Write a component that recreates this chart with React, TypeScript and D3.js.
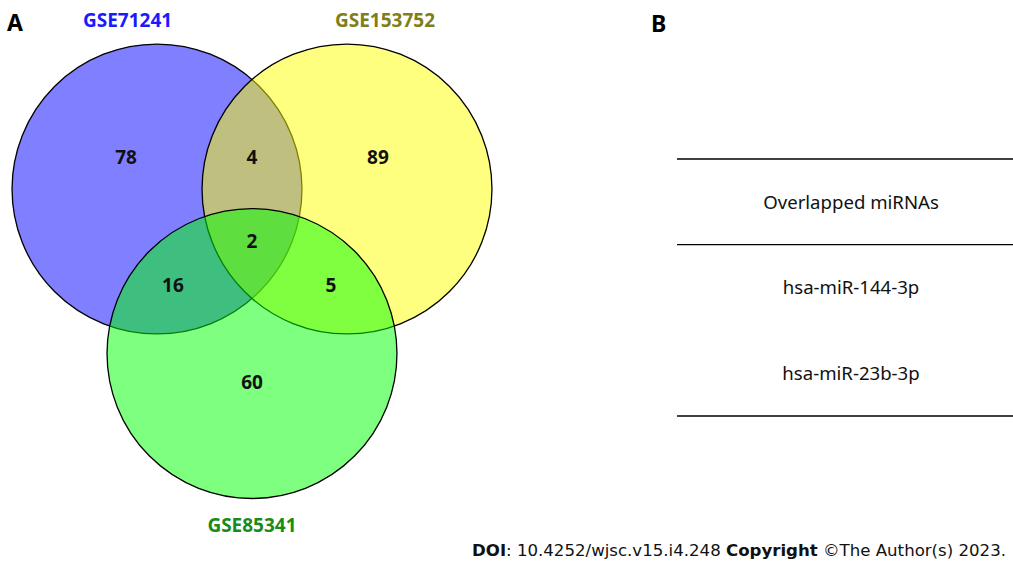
import React, { useEffect, useRef } from 'react'
import * as d3 from 'd3'

const setNames = ['GSE71241', 'GSE153752', 'GSE85341']
const setFills = ['#0000ff', '#ffff00', '#00ff00']
const setLabelColors = ['#1a1aff', '#7f7f1a', '#1a8a1a']

// region keys: which sets the region belongs to
const regionKeys = ['A', 'B', 'AB', 'ABC', 'AC', 'BC', 'C']
const regionCounts = [78, 89, 4, 2, 16, 5, 60]

const tableHeader = 'Overlapped miRNAs'
const overlapMirnas = ['hsa-miR-144-3p', 'hsa-miR-23b-3p']

const W = 1013
const H = 566

// venn layout in unit coords (distance between centres = 1)
const centres: [number, number][] = [[0, 0], [1, 0], [0.5, 0.866]]
const radiusU = 0.763
const regionAnchor: Record<string, [number, number]> = {
    A: [-0.163, -0.168],
    B: [1.163, -0.168],
    AB: [0.5, -0.168],
    ABC: [0.5, 0.274],
    AC: [0.084, 0.505],
    BC: [0.916, 0.505],
    C: [0.5, 1.02],
}

const App = () => {
    const svgRef = useRef<SVGSVGElement>(null)

    useEffect(() => {
        const svg = d3.select(svgRef.current)
        svg.selectAll('*').remove()

        const x = d3.scaleLinear([0, 1], [157, 347])
        const y = d3.scaleLinear([0, 1], [189, 379])
        const r = (u: number) => x(u) - x(0)

        const font = '"Noto Sans", sans-serif'

        // panel letters
        svg.append('text').attr('x', 7).attr('y', 31).text('A')
            .attr('font-family', font).attr('font-weight', 'bold').attr('font-size', 23)
        svg.append('text').attr('x', 651).attr('y', 32).text('B')
            .attr('font-family', font).attr('font-weight', 'bold').attr('font-size', 23)

        // circles
        svg.append('g')
            .selectAll('circle')
            .data(centres)
            .join('circle')
            .attr('cx', d => x(d[0]))
            .attr('cy', d => y(d[1]))
            .attr('r', r(radiusU))
            .attr('fill', (_, i) => setFills[i])
            .attr('fill-opacity', 0.5)
            .attr('stroke', '#000')
            .attr('stroke-width', 1.3)

        // set labels
        const labelPos: [number, number][] = [[-0.155, 27], [1.2, 27], [0.5, 532]]
        svg.append('g')
            .selectAll('text')
            .data(setNames)
            .join('text')
            .attr('x', (_, i) => x(labelPos[i][0]))
            .attr('y', (_, i) => labelPos[i][1])
            .attr('text-anchor', 'middle')
            .attr('font-family', font)
            .attr('font-weight', 'bold')
            .attr('font-size', 19)
            .attr('fill', (_, i) => setLabelColors[i])
            .text(d => d)

        // counts
        svg.append('g')
            .selectAll('text')
            .data(regionKeys)
            .join('text')
            .attr('x', d => x(regionAnchor[d][0]))
            .attr('y', d => y(regionAnchor[d][1]))
            .attr('dy', '0.35em')
            .attr('text-anchor', 'middle')
            .attr('font-family', font)
            .attr('font-weight', 'bold')
            .attr('font-size', 19)
            .attr('fill', '#111')
            .text((_, i) => regionCounts[i])

        // table B
        const rows = [tableHeader, ...overlapMirnas]
        const ty = d3.scaleBand().domain(rows.map(String)).range([159, 416])
        const tx0 = 677
        const tx1 = W
        const lineYs = [159, ty(overlapMirnas[0])!, 416]
        svg.append('g')
            .selectAll('line')
            .data(lineYs)
            .join('line')
            .attr('x1', tx0).attr('x2', tx1)
            .attr('y1', d => d).attr('y2', d => d)
            .attr('stroke', '#000').attr('stroke-width', 1.3)
        svg.append('g')
            .selectAll('text')
            .data(rows)
            .join('text')
            .attr('x', (tx0 + tx1) / 2 + 6)
            .attr('y', d => ty(d)! + ty.bandwidth() / 2 + (d === tableHeader ? 1 : 0))
            .attr('dy', '0.35em')
            .attr('text-anchor', 'middle')
            .attr('font-family', font)
            .attr('font-size', 18.6)
            .attr('fill', '#111')
            .text(d => d)

        // footer
        const foot = svg.append('text')
            .attr('x', W - 7).attr('y', 556)
            .attr('text-anchor', 'end')
            .attr('font-family', '"DejaVu Sans", sans-serif')
            .attr('font-size', 16.6)
            .attr('fill', '#111')
        foot.append('tspan').attr('font-weight', 'bold').text('DOI')
        foot.append('tspan').text(': 10.4252/wjsc.v15.i4.248 ')
        foot.append('tspan').attr('font-weight', 'bold').text('Copyright')
        foot.append('tspan').text(' ©The Author(s) 2023.')
    }, [])

    return (
        <svg ref={svgRef} width={W} height={H}
            style={{ position: 'absolute', left: 0, top: 0, background: '#fff' }} />
    )
}

export default App
